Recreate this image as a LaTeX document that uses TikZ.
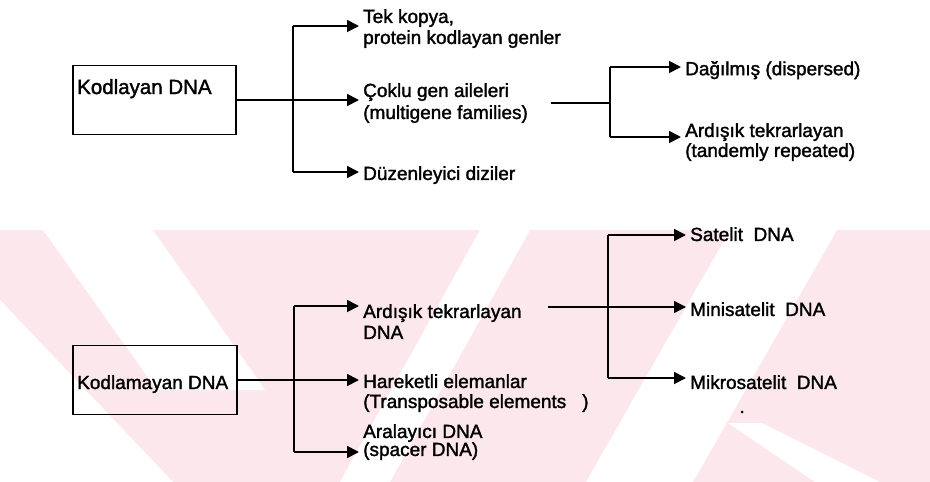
\documentclass[tikz,border=0pt]{standalone}
\usepackage{fontspec}
\setmainfont{Liberation Sans}[FakeBold=1.6]
\usetikzlibrary{arrows.meta,calc}
\definecolor{wm}{RGB}{252,232,236}
\begin{document}
\begin{tikzpicture}[x=1pt,y=-1pt,
  conn/.style={line width=1.8pt},
  arr/.style={conn,shorten >=4pt,-{Triangle[length=12pt,width=12pt]}},
  lbl/.style={anchor=north west,inner sep=0pt,align=left,font=\fontsize{19}{21}\selectfont},
  boxnode/.style={draw,line width=1.8pt,inner sep=0pt},
  boxtext/.style={anchor=base west,inner sep=0pt,font=\fontsize{19}{21}\selectfont},
  paper/.style={fill=white}]
\useasboundingbox (0,0) rectangle (930,482);
% watermark
\fill[wm] (0,230) rectangle (930,482);
\fill[paper] (0,300) -- (173,482) -- (0,482) -- cycle;
\fill[paper] (43,230) -- (153,230) -- (265,390) -- (157,390) -- cycle;
\fill[paper] (480,230) -- (530,230) -- (390,482) -- (340,482) -- cycle;
\fill[paper] (730,230) -- (837,230) -- (693,482) -- (586,482) -- cycle;
\fill[paper] (728,423) -- (762,423) -- (880,482) -- (815,482) -- cycle;
% top part
\node[boxnode,minimum width=163pt,minimum height=69pt] (kod) at (154.5,100) {};
\node[boxtext,font=\fontsize{20.5}{21}\selectfont] (kodt) at (77,94) {Kodlayan DNA};
\node[lbl] (t1) at (363,9) {Tek kopya,\\protein kodlayan genler};
\node[lbl,font=\fontsize{19}{22}\selectfont] (t2) at (363,83) {Çoklu gen aileleri\\(multigene families)};
\node[lbl] (t3) at (363,166) {Düzenleyici diziler};
\node[lbl] (t4) at (685,61) {Dağılmış (dispersed)};
\node[lbl,font=\fontsize{19}{20}\selectfont] (t5) at (685,123) {Ardışık tekrarlayan\\(tandemly repeated)};
\coordinate (j1top) at (293,26);
\coordinate (j1bot) at (293,172);
\draw[conn] (j1top) -- (j1bot);
\draw[arr] (kod.east) -- (kod.east -| t2.west);
\draw[arr] (j1top) -- (j1top -| t1.west);
\draw[arr] (j1bot) -- (j1bot -| t3.west);
\coordinate (m1) at (551,103);
\coordinate (j2) at (610,103);
\coordinate (j2top) at (610,67);
\coordinate (j2bot) at (610,137);
\draw[conn] (m1) -- (j2);
\draw[conn] (j2top) -- (j2bot);
\draw[arr] (j2top) -- (j2top -| t4.west);
\draw[arr] (j2bot) -- (j2bot -| t5.west);
% bottom part
\node[boxnode,minimum width=164pt,minimum height=69pt] (kod2) at (155,380) {};
\node[boxtext] (kod2t) at (77,389) {Kodlamayan DNA};
\node[lbl] (b1) at (363,304) {Ardışık tekrarlayan\\DNA};
\node[lbl,font=\fontsize{19}{20}\selectfont] (b2) at (363,374) {Hareketli elemanlar\\(Transposable elements\hspace*{16pt})};
\node[lbl,font=\fontsize{19}{18}\selectfont] (b3) at (363,424) {Aralayıcı DNA\\(spacer DNA)};
\node[lbl] (c1) at (690,227) {Satelit\ \ DNA};
\node[lbl] (c2) at (690,302) {Minisatelit\ \ DNA};
\node[lbl] (c3) at (690,375) {Mikrosatelit\ \ DNA};
\coordinate (j3top) at (294,306);
\coordinate (j3bot) at (294,452);
\draw[conn] (j3top) -- (j3bot);
\draw[arr] (kod2.east) -- (kod2.east -| b2.west);
\draw[arr] (j3top) -- (j3top -| b1.west);
\draw[arr] (j3bot) -- (j3bot -| b3.west);
\coordinate (m2) at (548,307);
\coordinate (j4top) at (608,235);
\coordinate (j4bot) at (608,378);
\draw[conn] (j4top) -- (j4bot);
\draw[arr,line width=1.4pt] (m2) -- (m2 -| c2.west);
\draw[arr] (j4top) -- (j4top -| c1.west);
\draw[arr] (j4bot) -- (j4bot -| c3.west);
\node[circle,fill,inner sep=0pt,minimum size=3pt] (speck) at (742,412) {};
\end{tikzpicture}
\end{document}
